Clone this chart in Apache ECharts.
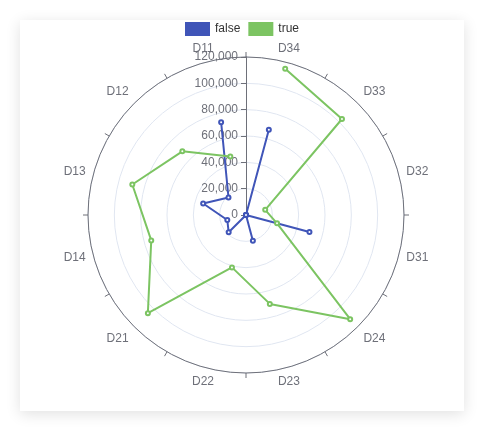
<!DOCTYPE html>
<html>
<head>
<meta charset="utf-8">
<script src="https://cdn.jsdelivr.net/npm/echarts@6/dist/echarts.min.js"></script>
<style>
  html, body { margin: 0; padding: 0; background: #ffffff; }
  .card {
    position: absolute;
    left: 20px;
    top: 20px;
    width: 444px;
    height: 391px;
    background: #ffffff;
    box-shadow: 0 3px 14px rgba(0, 0, 0, 0.12);
  }
  #chart { width: 100%; height: 100%; }
</style>
</head>
<body>
<div class="card"><div id="chart"></div></div>
<script>
// 分类（逆时针，从顶部左侧开始）
var categories = ['D11', 'D12', 'D13', 'D14', 'D21', 'D22', 'D23', 'D24', 'D31', 'D32', 'D33', 'D34'];
var falseValues = [73000, 18800, 33700, 14700, 18600, 0, 20200, 0, 49900, 0, 0, 67000];
var trueValues = [46000, 68400, 89400, 74500, 105400, 41200, 69900, 111900, 24400, 15100, 103100, 115000];
var seriesNames = ['false', 'true'];
var radiusMax = 120000;
var radiusStep = 20000;

var axisColor = '#6E7079';
var chart = echarts.init(document.getElementById('chart'));
var option = {
  color: ['#4055b8', '#7cc462'],
  textStyle: { fontFamily: 'Liberation Sans, Arial, sans-serif' },
  legend: {
    top: 2,
    padding: 0,
    left: 'center',
    icon: 'rect',
    itemWidth: 25,
    itemHeight: 14,
    data: seriesNames,
    textStyle: { color: '#333', fontSize: 12 }
  },
  polar: {
    center: [226, 195],
    radius: 158
  },
  angleAxis: {
    type: 'category',
    data: categories,
    startAngle: 90,
    clockwise: false,
    axisLine: { lineStyle: { color: axisColor } },
    axisTick: { lineStyle: { color: axisColor } },
    axisLabel: { fontSize: 12, color: axisColor },
    splitLine: { show: false }
  },
  radiusAxis: {
    type: 'value',
    min: 0,
    max: radiusMax,
    interval: radiusStep,
    axisLine: { lineStyle: { color: axisColor } },
    axisTick: { lineStyle: { color: axisColor } },
    axisLabel: { fontSize: 12, color: axisColor },
    splitLine: { show: true, lineStyle: { color: '#E0E6F1' } }
  },
  series: [
    {
      name: seriesNames[0],
      type: 'line',
      coordinateSystem: 'polar',
      data: falseValues,
      symbol: 'emptyCircle',
      symbolSize: 4,
      lineStyle: { width: 2 }
    },
    {
      name: seriesNames[1],
      type: 'line',
      coordinateSystem: 'polar',
      data: trueValues,
      symbol: 'emptyCircle',
      symbolSize: 4,
      lineStyle: { width: 2 }
    }
  ]
};
chart.setOption(option);
</script>
</body>
</html>
